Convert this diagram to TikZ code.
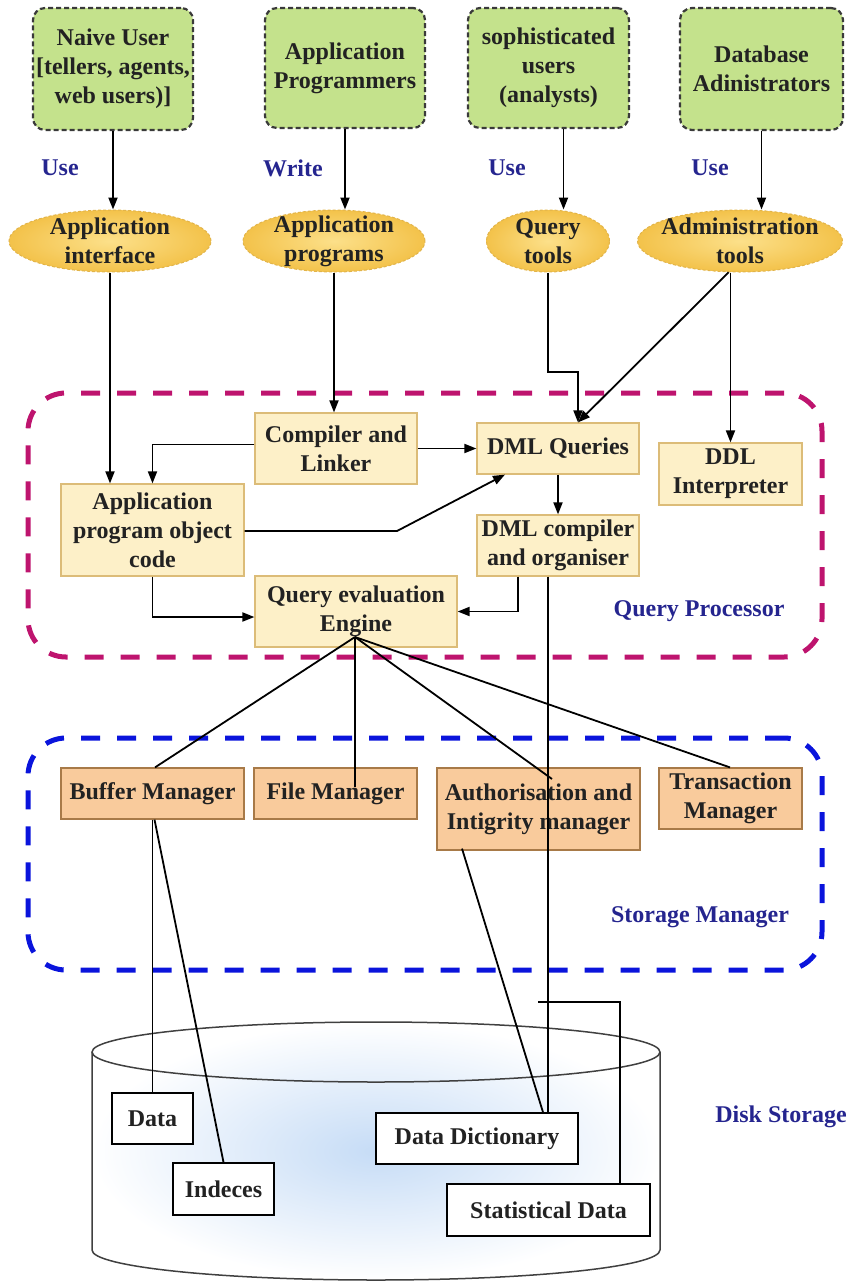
\documentclass[tikz,border=0pt]{standalone}
\usepackage{fontspec}
\setmainfont{Liberation Serif}
\usetikzlibrary{arrows.meta,shapes.geometric,calc}

\definecolor{usergreen}{HTML}{C4E28C}
\definecolor{useredge}{HTML}{3A3A3A}
\definecolor{toolin}{HTML}{FCE08A}
\definecolor{toolout}{HTML}{F3C24A}
\definecolor{tooledge}{HTML}{E2B44A}
\definecolor{qpfill}{HTML}{FDF0C8}
\definecolor{qpedge}{HTML}{DCBC78}
\definecolor{smfill}{HTML}{F9CB9C}
\definecolor{smedge}{HTML}{A87A48}
\definecolor{qpline}{HTML}{BE146E}
\definecolor{smline}{HTML}{0A14DC}
\definecolor{navy}{HTML}{25258F}
\definecolor{ink}{HTML}{222222}
\definecolor{diskglow}{HTML}{C6DCF6}

\begin{document}
\begin{tikzpicture}[x=1pt,y=-1pt,
  font=\bfseries\fontsize{24}{29}\selectfont,
  actor/.style={draw=useredge, line width=2.2pt, dash pattern=on 5pt off 3pt,
    rounded corners=12pt, fill=usergreen, text=ink, align=center, inner sep=0pt},
  tool/.style={ellipse, draw=tooledge, line width=1pt, dash pattern=on 3pt off 2pt,
    inner color=toolin, outer color=toolout, text=ink, align=center, inner sep=-20pt},
  qpbox/.style={draw=qpedge, line width=1.2pt, fill=qpfill, text=ink, align=center, inner sep=0pt},
  smbox/.style={draw=smedge, line width=1.2pt, fill=smfill, text=ink, align=center, inner sep=0pt},
  diskbox/.style={draw=black, line width=1.5pt, fill=white, text=ink, align=center, inner sep=0pt},
  group/.style={line width=5pt, dash pattern=on 19pt off 17pt, rounded corners=38pt},
  tag/.style={text=navy},
  link/.style={draw=black, line width=1.8pt},
  arr/.style={link, -{Triangle[length=12pt,width=9pt]}}
]
\useasboundingbox (0,0) rectangle (850,1283);

% disk storage cylinder
\fill[inner color=diskglow, outer color=white]
  (92,1052) -- (92,1250) arc[start angle=180,end angle=0,x radius=284,y radius=30]
  -- (660,1052) arc[start angle=0,end angle=-180,x radius=284,y radius=30] -- cycle;
\draw[line width=1.5pt, black!75] (92,1052) -- (92,1250)
  arc[start angle=180,end angle=0,x radius=284,y radius=30] -- (660,1052);
\draw[line width=1.5pt, black!75] (376,1052) ellipse[x radius=284, y radius=30];

% component groups
\node[group, draw=qpline, minimum width=794pt, minimum height=264pt] (qp) at (425,525) {};
\node[group, draw=smline, minimum width=794pt, minimum height=232pt] (sm) at (425,854) {};
\node[tag] (qplabel) at (699,611) {Query Processor};
\node[tag] (smlabel) at (700,917) {Storage Manager};
\node[tag] (dslabel) at (781,1117) {Disk Storage};

% users
\node[actor, minimum width=160pt, minimum height=122pt] (nu) at (113,69) {Naive User\\{}[tellers, agents,\\web users)]};
\node[actor, minimum width=160pt, minimum height=120pt] (ap) at (345,68) {Application\\Programmers};
\node[actor, minimum width=161pt, minimum height=120pt] (su) at (548.5,68) {sophisticated\\users\\(analysts)};
\node[actor, minimum width=163pt, minimum height=122pt] (da) at (761.5,69) {Database\\Adinistrators};

\node[tag] (use1) at (60,168) {Use};
\node[tag] (write) at (293,168) {Write};
\node[tag] (use2) at (507,168) {Use};
\node[tag] (use3) at (710,168) {Use};

% tools
\node[tool, minimum width=202pt, minimum height=62pt] (ai) at (110,241) {Application\\interface};
\node[tool, minimum width=182pt, minimum height=62pt] (apg) at (334,241) {Application\\programs};
\node[tool, minimum width=123pt, minimum height=62pt] (qt) at (548,241) {Query\\tools};
\node[tool, minimum width=205pt, minimum height=62pt] (at) at (740,241) {Administration\\tools};

% query processor
\node[qpbox, minimum width=162pt, minimum height=71pt] (cl) at (336,448.5) {Compiler and\\Linker};
\node[qpbox, minimum width=183pt, minimum height=92pt] (ao) at (152.5,530) {Application\\program object\\code};
\node[qpbox, minimum width=202pt, minimum height=71pt] (qe) at (356,611.5) {Query evaluation\\Engine};
\node[qpbox, minimum width=162pt, minimum height=51pt] (dq) at (558,448.5) {DML Queries};
\node[qpbox, minimum width=143pt, minimum height=62pt] (ddl) at (730.5,474) {DDL\\Interpreter};
\node[qpbox, minimum width=162pt, minimum height=61pt] (dc) at (558,545.5) {DML compiler\\and organiser};

% storage manager
\node[smbox, minimum width=183pt, minimum height=51pt] (bm) at (152.5,793.5) {Buffer Manager};
\node[smbox, minimum width=163pt, minimum height=51pt] (fm) at (335.5,793.5) {File Manager};
\node[smbox, minimum width=203pt, minimum height=82pt] (am) at (538.5,809) {Authorisation and\\Intigrity manager};
\node[smbox, minimum width=143pt, minimum height=61pt] (tm) at (730.5,798.5) {Transaction\\Manager};

% disk contents
\node[diskbox, minimum width=81pt, minimum height=51pt] (dt) at (152.5,1118.5) {Data};
\node[diskbox, minimum width=101pt, minimum height=52pt] (ix) at (223.5,1189) {Indeces};
\node[diskbox, minimum width=202pt, minimum height=51pt] (dd) at (477,1138.5) {Data Dictionary};
\node[diskbox, minimum width=203pt, minimum height=52pt] (sd) at (548.5,1210) {Statistical Data};

% users to tools
\coordinate (sufoot) at ($(su.south)+(15,0)$);
\draw[arr] (nu.south) -- (nu.south |- ai.north);
\draw[arr] (ap.south) -- (ap.south |- apg.north);
\draw[arr] (sufoot) -- (sufoot |- qt.north);
\draw[arr] (da.south) -- (da.south |- at.north);

% tools into the query processor
\coordinate (dqin) at ($(dq.north)+(20,0)$);
\coordinate (qtbend) at (548,372);
\draw[arr] (ai.south) -- (ai.south |- ao.north);
\draw[arr] (apg.south) -- (apg.south |- cl.north);
\draw[arr] (qt.south) -- (qtbend) -| (dqin);
\draw[arr] (at.250) -- (dqin);
\draw[arr] (ddl.north |- at.south) -- (ddl.north);

% inside the query processor
\coordinate (clout) at ($(cl.west)+(0,-4)$);
\coordinate (aokink) at (397,531);
\coordinate (dqfoot) at ($(dq.south)+(-53,0)$);
\coordinate (qein) at ($(qe.west)+(0,5.5)$);
\coordinate (dcout) at ($(dc.south)+(-40,0)$);
\draw[arr] (clout) -| (ao.north);
\draw[arr] (cl.east) -- (dq.west);
\draw[arr] (ao.east |- aokink) -- (aokink) -- (dqfoot);
\draw[arr] (ao.south) |- (qein);
\draw[arr] (dq.south) -- (dc.north);
\draw[arr] (dcout) |- (qe.east);

% query evaluation engine to the storage manager
\coordinate (qf) at (355,637);
\draw[link] (qf) -- ($(bm.north)+(2.5,0)$);
\draw[link] (qf) -- ($(fm.center)+(19.5,-6.5)$);
\draw[link] (qf) -- ($(am.center)+(13.5,-30)$);
\draw[link] (qf) -- ($(tm.north)+(-0.5,0)$);

% storage manager and dictionary to disk
\coordinate (dclong) at ($(dc.south)+(-10,0)$);
\coordinate (sdtap) at (538,1002);
\draw[link] (dclong) -- (dclong |- dd.north);
\draw[link] (sdtap) -| ($(sd.north)+(71.5,0)$);
\draw[link] (bm.south) -- (bm.south |- dt.north);
\draw[link] ($(bm.south)+(2,0)$) -- (ix.north);
\draw[link] ($(am.south)+(-76.5,-2)$) -- ($(dd.north)+(66,0)$);
\end{tikzpicture}
\end{document}
